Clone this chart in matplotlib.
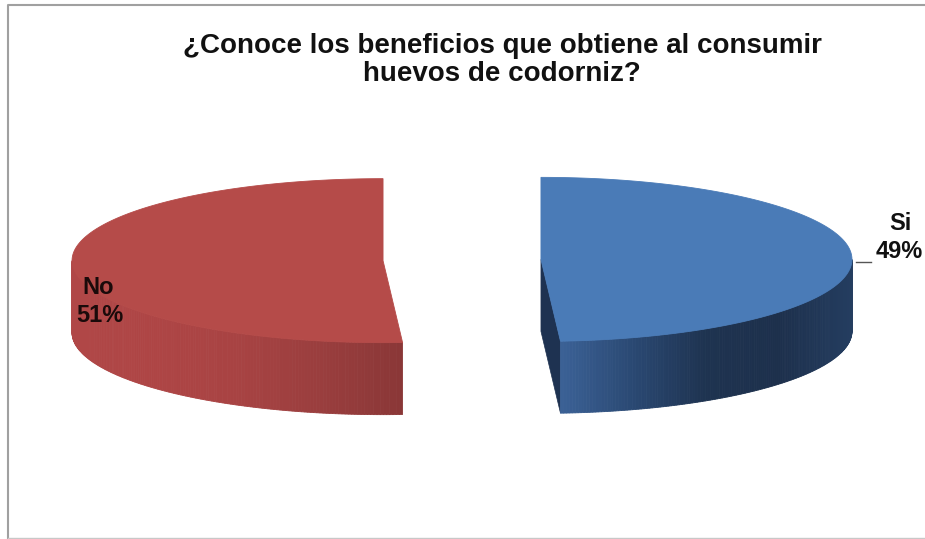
import numpy as np
import matplotlib.pyplot as plt
from matplotlib.patches import Polygon
from matplotlib.colors import LinearSegmentedColormap

# survey answers
labels = ["Si", "No"]
shares = [49, 51]
top_colors = ["#4A7BB7", "#B54B49"]
wall_maps = [
    LinearSegmentedColormap.from_list("blue_wall", ["#3B6196", "#2A4872", "#1E3350", "#1D304C", "#243D60"]),
    LinearSegmentedColormap.from_list("red_wall", ["#B04747", "#AE4545", "#A84343", "#9A3E3E", "#8A3737"]),
]
cut_colors = ["#1E3251", "#7E3232"]
title = "¿Conoce los beneficios que obtiene al consumir\nhuevos de codorniz?"

plt.rcParams["font.family"] = ["Liberation Sans", "DejaVu Sans"]

fig = plt.figure(figsize=(9.25, 5.39), dpi=100)
ax = fig.add_axes([0, 0, 1, 1])
ax.set_xlim(0, 925)
ax.set_ylim(539, 0)
ax.axis("off")

# chart frame
ax.plot([8, 8, 930], [539, 5, 5], color="#A0A0A0", lw=1.5)
ax.plot([8, 930], [537.5, 537.5], color="#C8C8C8", lw=1)

cx, cy = 462, 260      # pie centre (top face)
rx, ry = 311, 82       # ellipse radii of the top face
depth = 72             # pie thickness
explode = 79           # distance each slice is pulled out


def pt(x0, y0, th):
    # th: clockwise angle from 12 o'clock, in degrees
    r = np.radians(th)
    return x0 + rx * np.sin(r), y0 - ry * np.cos(r)


start = 0.0
for i, (lab, val) in enumerate(zip(labels, shares)):
    span = 360.0 * val / sum(shares)
    t1, t2 = start, start + span
    mid = np.radians((t1 + t2) / 2)
    ox = cx + explode * np.sin(mid)
    oy = cy - explode * np.cos(mid) * ry / rx

    # radial cut faces that face the viewer
    for th, sgn in ((t1, -1), (t2, 1)):
        r = np.radians(th)
        nx, ny = sgn * np.cos(r), -sgn * np.sin(r)
        if ny < -1e-3:  # normal has a component toward the front
            ex, ey = pt(ox, oy, th)
            ax.add_patch(Polygon([(ox, oy), (ex, ey), (ex, ey + depth), (ox, oy + depth)],
                                 closed=True, fc=cut_colors[i], ec=cut_colors[i], lw=0.5))

    # outer wall, front half only
    a0, a1 = max(t1, 90), min(t2, 270)
    if a1 > a0:
        ths = np.linspace(a0, a1, 160)
        xs, ys = pt(ox, oy, ths)
        x_lo, x_hi = xs.min(), xs.max()
        for k in range(len(ths) - 1):
            f = ((xs[k] + xs[k + 1]) / 2 - x_lo) / (x_hi - x_lo)
            c = wall_maps[i](f)
            ax.add_patch(Polygon([(xs[k], ys[k]), (xs[k + 1], ys[k + 1]),
                                  (xs[k + 1], ys[k + 1] + depth), (xs[k], ys[k] + depth)],
                                 closed=True, fc=c, ec=c, lw=0.6))

    # top face
    ths = np.linspace(t1, t2, 200)
    xs, ys = pt(ox, oy, ths)
    verts = [(ox, oy)] + list(zip(xs, ys))
    ax.add_patch(Polygon(verts, closed=True, fc=top_colors[i], ec=top_colors[i], lw=0.6))
    start = t2

# data labels
ax.text(900, 224, labels[0], ha="center", va="center", fontsize=17, fontweight="bold", color="#111111")
ax.text(899, 252, f"{shares[0]}%", ha="center", va="center", fontsize=17, fontweight="bold", color="#111111")
ax.plot([856, 871], [262, 262], color="#555555", lw=1)
ax.text(98, 288, labels[1], ha="center", va="center", fontsize=17, fontweight="bold", color="#1A0A0A")
ax.text(100, 315, f"{shares[1]}%", ha="center", va="center", fontsize=17, fontweight="bold", color="#1A0A0A")

ax.text(502, 60, title, ha="center", va="center", fontsize=20, fontweight="bold",
        color="#111111", linespacing=1.06)

fig.savefig("out.png", dpi=100)
